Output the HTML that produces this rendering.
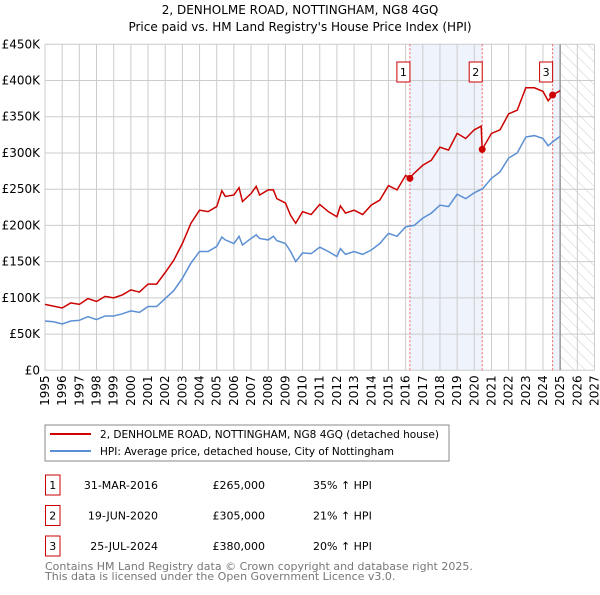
<!DOCTYPE html>
<html><head><meta charset="utf-8"><style>
body{margin:0;background:#fff;font-family:"Liberation Sans","DejaVu Sans",sans-serif;}
svg text{font-family:"DejaVu Sans","Liberation Sans",sans-serif;}
</style></head><body>
<svg id="c" width="600" height="590" viewBox="0 0 600 590" xmlns="http://www.w3.org/2000/svg">
<defs><pattern id="hatch" width="8" height="8" patternUnits="userSpaceOnUse" patternTransform="rotate(-45)"><line x1="0" y1="0" x2="0" y2="8" stroke="#ccc" stroke-width="1"/></pattern></defs>
<text x="300" y="14" text-anchor="middle" font-size="12">2, DENHOLME ROAD, NOTTINGHAM, NG8 4GQ</text>
<text x="300" y="31" text-anchor="middle" font-size="12">Price paid vs. HM Land Registry's House Price Index (HPI)</text>
<g id="plot"></g>
<rect x="45" y="425" width="404" height="36" fill="#fff" stroke="#888"/>
<line x1="50" y1="434" x2="91" y2="434" stroke="#cc0000" stroke-width="2"/>
<text x="100" y="438" font-size="11" textLength="339" lengthAdjust="spacingAndGlyphs">2, DENHOLME ROAD, NOTTINGHAM, NG8 4GQ (detached house)</text>
<line x1="50" y1="451" x2="91" y2="451" stroke="#5b8fd4" stroke-width="2"/>
<text x="100" y="455" font-size="11" textLength="294" lengthAdjust="spacingAndGlyphs">HPI: Average price, detached house, City of Nottingham</text>
<g id="table" font-size="11"></g>
<text x="45" y="570" font-size="11" fill="#777">Contains HM Land Registry data © Crown copyright and database right 2025.</text>
<text x="45" y="580" font-size="11" fill="#777">This data is licensed under the Open Government Licence v3.0.</text>
</svg>
<script>
const hpiYears=[1995,1995.5,1996,1996.5,1997,1997.5,1998,1998.5,1999,1999.5,2000,2000.5,2001,2001.5,2002,2002.5,2003,2003.5,2004,2004.5,2005,2005.3,2005.5,2006,2006.3,2006.5,2007,2007.3,2007.5,2008,2008.3,2008.5,2009,2009.3,2009.6,2010,2010.5,2011,2011.5,2012,2012.2,2012.5,2013,2013.5,2014,2014.5,2015,2015.5,2016,2016.5,2017,2017.5,2018,2018.5,2019,2019.5,2020,2020.5,2021,2021.5,2022,2022.5,2023,2023.5,2024,2024.3,2024.6,2025];
const hpiValues=[68,67,64,68,69,74,70,75,75,78,82,80,88,88,99,110,127,148,164,164,171,184,180,175,185,173,182,187,182,180,185,179,175,164,150,162,161,170,164,157,168,160,164,160,166,175,189,185,198,200,210,217,228,226,243,237,245,251,265,274,293,300,322,324,320,310,316,323];
const propYears=[1995,1996,1996.5,1997,1997.5,1998,1998.5,1999,1999.5,2000,2000.5,2001,2001.5,2002,2002.5,2003,2003.5,2004,2004.5,2005,2005.3,2005.5,2006,2006.3,2006.5,2007,2007.3,2007.5,2008,2008.3,2008.5,2009,2009.3,2009.6,2010,2010.5,2011,2011.5,2012,2012.2,2012.5,2013,2013.5,2014,2014.5,2015,2015.5,2016,2016.25,2016.5,2017,2017.5,2018,2018.5,2019,2019.5,2020,2020.4,2020.46,2021,2021.5,2022,2022.5,2023,2023.5,2024,2024.3,2024.56,2025];
const propValues=[91,86,93,91,99,95,102,100,104,111,108,119,119,135,152,175,203,221,219,226,248,240,242,252,233,244,254,242,249,249,237,231,214,203,219,215,229,219,212,227,217,221,215,228,235,255,249,269,266,272,283,290,308,304,327,320,332,337,305,327,332,354,359,390,390,385,372,380,386];
const saleYears=[2016.25,2020.46,2024.56];
const saleValues=[265,305,380];
const saleLabels=["1","2","3"];
const saleDates=["31-MAR-2016","19-JUN-2020","25-JUL-2024"];
const salePrices=["£265,000","£305,000","£380,000"];
const saleHpi=["35% ↑ HPI","21% ↑ HPI","20% ↑ HPI"];
const yTicks=[0,50,100,150,200,250,300,350,400,450];
const yTickLabels=["£0","£50K","£100K","£150K","£200K","£250K","£300K","£350K","£400K","£450K"];
const xTicks=[];for(let y=1995;y<=2027;y++)xTicks.push(y);

const NS="http://www.w3.org/2000/svg";
const X0=45,X1=594.5,Y0=370.3,Y1=44.3;
const xs=v=>X0+(v-1995)/(2027-1995)*(X1-X0);
const ys=v=>Y0-v/450*(Y0-Y1);
const plot=document.getElementById('plot');
function mk(tag,attrs,parent){const e=document.createElementNS(NS,tag);for(const k in attrs)e.setAttribute(k,attrs[k]);(parent||plot).appendChild(e);return e;}
let e;
e=mk('rect',{x:X0,y:Y1,width:X1-X0,height:Y0-Y1,fill:'#fff'});


e=mk('rect',{x:xs(saleYears[0]),y:Y1,width:xs(saleYears[1])-xs(saleYears[0]),height:Y0-Y1,fill:'#eef3fc'});


e=mk('rect',{x:xs(saleYears[2]),y:Y1,width:xs(2025)-xs(saleYears[2]),height:Y0-Y1,fill:'#eef3fc'});


e=mk('rect',{x:xs(2025),y:Y1,width:X1-xs(2025),height:Y0-Y1,fill:'url(#hatch)'});


xTicks.forEach(t=>{
 e=mk('line',{x1:xs(t),x2:xs(t),y1:Y1,y2:Y0,stroke:'#ccc','stroke-width':1});
 
 
 const tx=xs(t)+4, ty=Y0+5;
 e=mk('text',{x:tx,y:ty,'font-size':12,'text-anchor':'end',transform:'rotate(-90 '+tx+' '+ty+')'});
 e.textContent=t;
 
 
});
yTicks.forEach((t,i)=>{
 e=mk('line',{x1:X0,x2:X1,y1:ys(t),y2:ys(t),stroke:'#ccc','stroke-width':1});
 
 
 e=mk('text',{x:40,y:ys(t)+4,'font-size':12,'text-anchor':'end'});
 e.textContent=yTickLabels[i];
 
 
});
e=mk('line',{x1:xs(2025),x2:xs(2025),y1:Y1,y2:Y0,stroke:'#999','stroke-width':1.5});


saleYears.forEach((s,i)=>{
 e=mk('line',{x1:xs(s),x2:xs(s),y1:Y1,y2:Y0,stroke:'#f06060','stroke-width':1,'stroke-dasharray':'2,2'});
 
 
 e=mk('rect',{x:xs(s)-13,y:62,width:13,height:20,fill:'#fff',stroke:'#cc0000'});
 
 
 e=mk('text',{x:xs(s)-6.5,y:76,'font-size':11,'text-anchor':'middle'});
 e.textContent=saleLabels[i];
 
 
});
e=mk('polyline',{points:hpiYears.map((y,i)=>xs(y)+','+ys(hpiValues[i])).join(' '),fill:'none',stroke:'#5b8fd4','stroke-width':1.5});


e=mk('polyline',{points:propYears.map((y,i)=>xs(y)+','+ys(propValues[i])).join(' '),fill:'none',stroke:'#cc0000','stroke-width':1.5});


saleYears.forEach((s,i)=>{
 e=mk('circle',{cx:xs(s),cy:ys(saleValues[i]),r:3.5,fill:'#cc0000'});
 
 
});
const tb=document.getElementById('table');
saleYears.forEach((s,i)=>{
 const cy=485+i*30.5;
 e=mk('rect',{x:45.5,y:cy-10,width:14.5,height:20,fill:'#fff',stroke:'#cc0000'},tb);
 
 
 const cells=[[52.7,saleLabels[i],'middle'],[158,saleDates[i],'end'],[265,salePrices[i],'end'],[313,saleHpi[i],'start']];
 cells.forEach(c=>{
  e=mk('text',{x:c[0],y:cy+4,'text-anchor':c[2]},tb);
  e.textContent=c[1];
  
  
 });
});
</script>
</body></html>
